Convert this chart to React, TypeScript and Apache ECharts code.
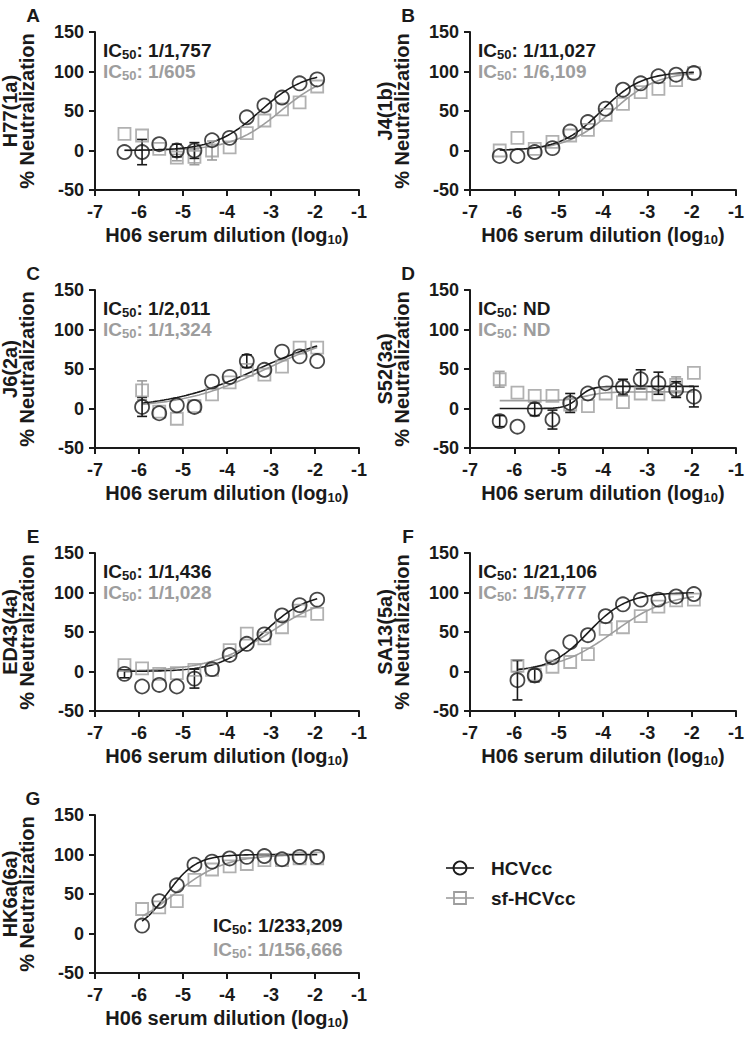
import React, { useEffect, useRef } from "react";
import * as echarts from "echarts";

// ---------- data ----------
const dilutions = [-6.33, -5.93, -5.54, -5.14, -4.74, -4.34, -3.94, -3.55, -3.15, -2.75, -2.35, -1.95];

const strains = ["H77(1a)", "J4(1b)", "J6(2a)", "S52(3a)", "ED43(4a)", "SA13(5a)", "HK6a(6a)"];
const panelLetters = ["A", "B", "C", "D", "E", "F", "G"];

const hcvA = [-2, -2, 8, 0, 0, 13, 16, 42, 57, 67, 85, 90];
const hcvAErr = [0, 16, 0, 8, 10, 0, 0, 0, 0, 0, 0, 0];
const sfA = [21, 19, 2, -9, -8, 0, 4, 22, 38, 52, 61, 81];
const sfAErr = [0, 0, 0, 4, 10, 12, 0, 0, 0, 0, 0, 0];

const hcvB = [-7, -7, -2, 3, 24, 36, 53, 77, 85, 94, 96, 98];
const hcvBErr = [0, 0, 0, 0, 0, 0, 0, 0, 0, 0, 0, 0];
const sfB = [0, 16, 2, 11, 19, 26, 45, 59, 74, 78, 89, 98];
const sfBErr = [0, 0, 0, 0, 0, 0, 0, 0, 0, 0, 0, 0];

const hcvC = [null, 2, -6, 4, 2, 34, 40, 60, 49, 72, 66, 60];
const hcvCErr = [0, 12, 0, 0, 0, 0, 0, 8, 0, 0, 0, 0];
const sfC = [null, 23, -4, -13, 3, 18, 33, 49, 43, 53, 77, 77];
const sfCErr = [0, 12, 0, 0, 0, 0, 0, 0, 0, 0, 0, 0];

const hcvD = [-16, -23, -1, -14, 7, 19, 32, 27, 37, 32, 24, 15];
const hcvDErr = [7, 0, 8, 12, 12, 0, 0, 10, 12, 14, 10, 13];
const sfD = [37, 20, 16, 16, 5, 3, 19, 8, 19, 18, 30, 45];
const sfDErr = [10, 0, 0, 0, 8, 0, 0, 0, 0, 0, 10, 0];

const hcvE = [-3, -19, -17, -19, -9, 3, 21, 35, 47, 71, 84, 91];
const hcvEErr = [5, 0, 0, 0, 12, 0, 0, 0, 0, 0, 0, 0];
const sfE = [8, 4, -3, -2, 2, 2, 27, 48, 42, 56, 77, 73];
const sfEErr = [0, 0, 0, 0, 0, 0, 0, 0, 0, 0, 0, 0];

const hcvF = [null, -11, -5, 18, 37, 46, 70, 85, 91, 91, 95, 98];
const hcvFErr = [0, 25, 8, 0, 0, 0, 0, 0, 0, 0, 0, 0];
const sfF = [null, 7, -4, 6, 12, 22, 54, 56, 70, 82, 90, 91];
const sfFErr = [0, 7, 0, 0, 0, 0, 0, 0, 0, 0, 0, 0];

const hcvG = [null, 10, 41, 61, 87, 91, 95, 97, 98, 94, 97, 97];
const hcvGErr = [0, 0, 0, 0, 0, 0, 0, 0, 0, 0, 0, 0];
const sfG = [null, 31, 33, 41, 68, 81, 85, 88, 93, 93, 95, 95];
const sfGErr = [0, 0, 0, 0, 0, 0, 0, 0, 0, 0, 0, 0];

// fitted 4-parameter logistic curves: [bottom, top, logIC50, hill, xStart, xEnd]
const fitHcv = [
  [0, 100, -3.245, 0.85, -6.33, -1.95],
  [0, 100, -4.04, 0.95, -6.33, -1.95],
  [0, 100, -3.3, 0.43, -5.93, -1.95],
  [0, 28, -4.55, 3.0, -6.33, -1.95],
  [0, 100, -3.157, 0.88, -6.33, -1.95],
  [0, 100, -4.324, 1.0, -5.93, -1.95],
  [0, 100, -5.368, 1.3, -5.93, -1.95],
];
const fitSf = [
  [0, 100, -2.78, 0.79, -6.33, -1.95],
  [0, 100, -3.79, 0.85, -6.33, -1.95],
  [0, 100, -3.12, 0.45, -5.93, -1.95],
  [10, 21, -4.4, 2.0, -6.33, -1.95],
  [0, 100, -3.012, 0.62, -6.33, -1.95],
  [0, 100, -3.762, 0.69, -5.93, -1.95],
  [0, 100, -5.195, 0.75, -5.93, -1.95],
];

const ic50Hcv = ["1/1,757", "1/11,027", "1/2,011", "ND", "1/1,436", "1/21,106", "1/233,209"];
const ic50Sf = ["1/605", "1/6,109", "1/1,324", "ND", "1/1,028", "1/5,777", "1/156,666"];

const hcvSets = [hcvA, hcvB, hcvC, hcvD, hcvE, hcvF, hcvG];
const hcvErrSets = [hcvAErr, hcvBErr, hcvCErr, hcvDErr, hcvEErr, hcvFErr, hcvGErr];
const sfSets = [sfA, sfB, sfC, sfD, sfE, sfF, sfG];
const sfErrSets = [sfAErr, sfBErr, sfCErr, sfDErr, sfEErr, sfFErr, sfGErr];

const xTicksMin = -7;
const xTicksMax = -1;
const yMin = -50;
const yMax = 150;

// ---------- style / layout ----------
const FONT = "Liberation Sans, Arial, Helvetica, sans-serif";
const BLACK = "#1a1a1a";
const GRAY = "#9d9d9d";
const colOrigin = [0, 375];
const gridLeft = [95, 470];
const gridWidth = [264, 266];
const rowTop = [32, 290, 553, 815];
const gridHeight = 158;

function curvePoints(p: number[]) {
  const [bottom, top, logIC, hill, x0, x1] = p;
  const pts: number[][] = [];
  const n = 80;
  for (let i = 0; i <= n; i++) {
    const x = x0 + ((x1 - x0) * i) / n;
    const y = bottom + (top - bottom) / (1 + Math.pow(10, (logIC - x) * hill));
    pts.push([x, y]);
  }
  return pts;
}

function icRich(color: string) {
  return {
    a: { fontSize: 19, fontWeight: "bold", fill: color, fontFamily: FONT },
    s: { fontSize: 13, fontWeight: "bold", fill: color, fontFamily: FONT, padding: [9, 0, 0, 0] },
  };
}

export default function App() {
  const ref = useRef<HTMLDivElement>(null);
  useEffect(() => {
    if (!ref.current) return;
    const chart = echarts.init(ref.current, undefined, { renderer: "svg" });

    const grids: any[] = [];
    const xAxes: any[] = [];
    const yAxes: any[] = [];
    const series: any[] = [];
    const graphics: any[] = [];

    strains.forEach((strain, i) => {
      const col = i % 2;
      const row = Math.floor(i / 2);
      const gl = gridLeft[col];
      const gt = rowTop[row];
      grids.push({ left: gl, top: gt, width: gridWidth[col], height: gridHeight });
      xAxes.push({
        type: "value",
        gridIndex: i,
        min: xTicksMin,
        max: xTicksMax,
        interval: 1,
        axisLine: { onZero: false, lineStyle: { color: BLACK, width: 2 } },
        axisTick: { length: 6, lineStyle: { color: BLACK, width: 2 } },
        axisLabel: { color: BLACK, fontSize: 18, fontWeight: "bold", fontFamily: FONT, margin: 13 },
        splitLine: { show: false },
        name: "{t|H06 serum dilution (log}{s|10}{t|)}",
        nameLocation: "middle",
        nameGap: 34,
        nameTextStyle: {
          rich: {
            t: { fontSize: 20, fontWeight: "bold", color: BLACK, fontFamily: FONT },
            s: { fontSize: 13, fontWeight: "bold", color: BLACK, fontFamily: FONT, padding: [9, 0, 0, 0] },
          },
        },
      });
      yAxes.push({
        type: "value",
        gridIndex: i,
        min: yMin,
        max: yMax,
        interval: 50,
        axisLine: { show: true, onZero: false, lineStyle: { color: BLACK, width: 2 } },
        axisTick: { show: true, length: 6, lineStyle: { color: BLACK, width: 2 } },
        axisLabel: { color: BLACK, fontSize: 18, fontWeight: "bold", fontFamily: FONT, margin: 11 },
        splitLine: { show: false },
      });

      // fitted curves
      series.push({
        type: "line",
        xAxisIndex: i,
        yAxisIndex: i,
        data: curvePoints(fitSf[i]),
        showSymbol: false,
        lineStyle: { color: GRAY, width: 1.6 },
        z: 2,
        silent: true,
      });
      series.push({
        type: "line",
        xAxisIndex: i,
        yAxisIndex: i,
        data: curvePoints(fitHcv[i]),
        showSymbol: false,
        lineStyle: { color: BLACK, width: 1.6 },
        z: 3,
        silent: true,
      });

      const mkErr = (vals: (number | null)[], errs: number[], color: string, z: number) => {
        const data: number[][] = [];
        vals.forEach((v, k) => {
          if (v !== null && errs[k] > 0) data.push([dilutions[k], v, errs[k]]);
        });
        return {
          type: "custom",
          xAxisIndex: i,
          yAxisIndex: i,
          data,
          z,
          silent: true,
          renderItem: (params: any, api: any) => {
            const x = api.value(0);
            const y = api.value(1);
            const e = api.value(2);
            const t = api.coord([x, y + e]);
            const b = api.coord([x, y - e]);
            const hw = 5;
            const st = { stroke: color, lineWidth: 1.6 };
            return {
              type: "group",
              children: [
                { type: "line", shape: { x1: t[0], y1: t[1], x2: b[0], y2: b[1] }, style: st },
                { type: "line", shape: { x1: t[0] - hw, y1: t[1], x2: t[0] + hw, y2: t[1] }, style: st },
                { type: "line", shape: { x1: b[0] - hw, y1: b[1], x2: b[0] + hw, y2: b[1] }, style: st },
              ],
            };
          },
        };
      };
      series.push(mkErr(sfSets[i], sfErrSets[i], GRAY, 4));
      series.push(mkErr(hcvSets[i], hcvErrSets[i], BLACK, 5));

      const pts = (vals: (number | null)[]) =>
        vals.map((v, k) => (v === null ? null : [dilutions[k], v])).filter((d) => d !== null);

      series.push({
        name: "sf-HCVcc",
        type: "scatter",
        xAxisIndex: i,
        yAxisIndex: i,
        data: pts(sfSets[i]),
        symbol: "rect",
        symbolSize: 12,
        itemStyle: { color: "rgba(255,255,255,0)", borderColor: GRAY, borderWidth: 1.8 },
        z: 6,
      });
      series.push({
        name: "HCVcc",
        type: "scatter",
        xAxisIndex: i,
        yAxisIndex: i,
        data: pts(hcvSets[i]),
        symbol: "circle",
        symbolSize: 14,
        itemStyle: { color: "rgba(255,255,255,0)", borderColor: BLACK, borderWidth: 1.8 },
        z: 7,
      });

      const ox = colOrigin[col];
      // panel letter
      graphics.push({
        type: "text",
        x: ox + 33,
        y: gt - 17,
        style: { text: panelLetters[i], fontSize: 19, fontWeight: "bold", fontFamily: FONT, fill: BLACK, align: "center", verticalAlign: "middle" },
      });
      // y titles
      const midY = gt + gridHeight / 2;
      graphics.push({
        type: "text",
        x: ox + 10,
        y: midY,
        rotation: Math.PI / 2,
        style: { text: strain, fontSize: 20, fontWeight: "bold", fontFamily: FONT, fill: BLACK, align: "center", verticalAlign: "middle" },
      });
      graphics.push({
        type: "text",
        x: ox + 27,
        y: midY,
        rotation: Math.PI / 2,
        style: { text: "% Neutralization", fontSize: 20, fontWeight: "bold", fontFamily: FONT, fill: BLACK, align: "center", verticalAlign: "middle" },
      });
      // IC50 labels
      const bottomRight = i === 6;
      const icX = bottomRight ? 213 : gl + 8;
      const icY1 = bottomRight ? gt + 110 : gt + 18;
      const icY2 = bottomRight ? gt + 134 : gt + 39;
      graphics.push({
        type: "text",
        x: icX,
        y: icY1,
        style: { text: "{a|IC}{s|50}{a|: " + ic50Hcv[i] + "}", rich: icRich(BLACK), align: "left", verticalAlign: "middle" },
      });
      graphics.push({
        type: "text",
        x: icX,
        y: icY2,
        style: { text: "{a|IC}{s|50}{a|: " + ic50Sf[i] + "}", rich: icRich(GRAY), align: "left", verticalAlign: "middle" },
      });
    });

    // legend (manual)
    const lx = 446;
    graphics.push({ type: "line", shape: { x1: lx, y1: 868, x2: lx + 28, y2: 868 }, style: { stroke: BLACK, lineWidth: 1.6 } });
    graphics.push({ type: "circle", shape: { cx: lx + 14, cy: 868, r: 6.5 }, style: { stroke: BLACK, fill: "rgba(255,255,255,0)", lineWidth: 1.8 } });
    graphics.push({ type: "text", x: 491, y: 868, style: { text: "HCVcc", fontSize: 19, fontWeight: "bold", fontFamily: FONT, fill: BLACK, align: "left", verticalAlign: "middle" } });
    graphics.push({ type: "line", shape: { x1: lx, y1: 898, x2: lx + 28, y2: 898 }, style: { stroke: GRAY, lineWidth: 1.6 } });
    graphics.push({ type: "rect", shape: { x: lx + 8, y: 892, width: 12, height: 12 }, style: { stroke: GRAY, fill: "rgba(255,255,255,0)", lineWidth: 1.8 } });
    graphics.push({ type: "text", x: 491, y: 898, style: { text: "sf-HCVcc", fontSize: 19, fontWeight: "bold", fontFamily: FONT, fill: BLACK, align: "left", verticalAlign: "middle" } });

    chart.setOption({
      animation: false,
      backgroundColor: "#ffffff",
      grid: grids,
      xAxis: xAxes,
      yAxis: yAxes,
      series,
      graphic: graphics,
    });
    return () => chart.dispose();
  }, []);

  return <div ref={ref} style={{ position: "absolute", left: 0, top: 0, width: 748, height: 1050, background: "#fff" }} />;
}
